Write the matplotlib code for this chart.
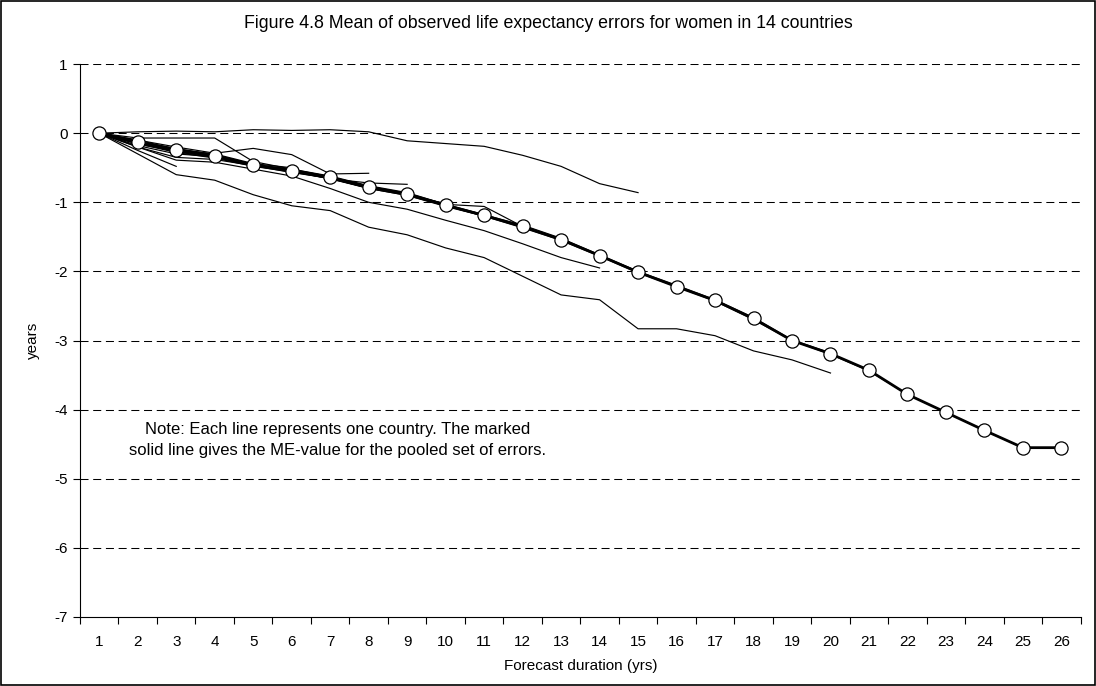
import numpy as np
import matplotlib.pyplot as plt
from matplotlib.patches import Rectangle

plt.rcParams['font.family'] = ['Liberation Sans', 'DejaVu Sans']
plt.rcParams['axes.unicode_minus'] = False

# forecast duration (years) 1..26
durations = list(range(1, 27))

# ME-value for the pooled set of errors
mean_errors = [0, -0.13, -0.25, -0.33, -0.46, -0.54, -0.64, -0.78, -0.88, -1.04,
               -1.19, -1.35, -1.54, -1.77, -2.01, -2.22, -2.42, -2.68, -3.0, -3.19,
               -3.43, -3.78, -4.04, -4.30, -4.55, -4.55]

# mean errors per country (series have different lengths)
country_a = [0, 0.02, 0.03, 0.02, 0.05, 0.04, 0.05, 0.02, -0.11, -0.15, -0.19, -0.32, -0.48, -0.73, -0.86]
country_b = [0, -0.3, -0.6, -0.68, -0.89, -1.05, -1.12, -1.36, -1.47, -1.66, -1.8, -2.07, -2.34, -2.41,
             -2.83, -2.83, -2.93, -3.15, -3.28, -3.47]
country_c = [0, -0.2, -0.39, -0.42, -0.52, -0.62, -0.8, -1.0, -1.1, -1.26, -1.41, -1.6, -1.8, -1.95]
country_d = [0, -0.1, -0.2, -0.29, -0.22, -0.31, -0.59, -0.58]
country_e = [0, -0.12, -0.22, -0.31, -0.45, -0.55, -0.66, -0.72, -0.74]
country_f = [0, -0.25, -0.48]
country_g = [0, -0.07, -0.07, -0.07, -0.41, -0.52, -0.62, -0.76, -0.86, -1.03, -1.06, -1.35]
country_h = [0, -0.15, -0.28, -0.36, -0.48, -0.56, -0.66, -0.8, -0.9, -1.05, -1.2, -1.37, -1.55,
             -1.78, -2.02, -2.22, -2.43, -2.7, -3.0, -3.2, -3.44, -3.78, -4.04, -4.3, -4.55, -4.55]
country_i = [0, -0.18, -0.3, -0.34, -0.45, -0.52, -0.63, -0.77, -0.88, -1.03, -1.18, -1.33, -1.52,
             -1.76, -2.0, -2.2, -2.41, -2.67, -2.99, -3.18]
country_j = [0, -0.2, -0.35, -0.38, -0.47, -0.57, -0.65, -0.8, -0.9, -1.06, -1.2]
country_k = [0, -0.12, -0.24, -0.3, -0.44, -0.5]
country_l = [0, -0.14, -0.27, -0.35, -0.47, -0.55, -0.66, -0.79, -0.89, -1.02]
country_m = [0, -0.16, -0.26, -0.33]
country_n = [0, -0.1, -0.23, -0.31, -0.46, -0.53, -0.64, -0.78, -0.87, -1.04, -1.18, -1.36, -1.53, -1.77, -2.0]

countries = [country_a, country_b, country_c, country_d, country_e, country_f, country_g,
             country_h, country_i, country_j, country_k, country_l, country_m, country_n]

y_ticks = list(range(-7, 2))

fig = plt.figure(figsize=(10.96, 6.86), dpi=100)
ax = fig.add_axes([0.073, 0.1006, 0.913, 0.806])

# dashed gridlines at each whole year
for y in y_ticks[1:]:
    ax.axhline(y, color='black', linestyle=(0, (7.7, 4.5)), linewidth=0.75, zorder=1)

for series in countries:
    ax.plot(durations[:len(series)], series, color='black', linewidth=0.85, zorder=2)

ax.plot(durations, mean_errors, color='black', linewidth=2.0, marker='o', markersize=9.5,
        markerfacecolor='white', markeredgecolor='black', markeredgewidth=0.9, zorder=3)

ax.set_xlim(0.5, 26.5)
ax.set_ylim(-7, 1)
ax.set_yticks(y_ticks)
ax.set_xticks(durations)
ax.set_xticks(np.arange(0.5, 27, 1), minor=True)
ax.tick_params(axis='x', which='major', length=0, pad=13, labelsize=11)
ax.tick_params(axis='x', which='minor', length=5, direction='out', width=0.8)
ax.tick_params(axis='y', length=5, direction='out', width=0.8, labelsize=11, pad=4)

ax.spines['top'].set_visible(False)
ax.spines['right'].set_visible(False)
ax.spines['left'].set_linewidth(0.8)
ax.spines['bottom'].set_linewidth(0.8)

ax.set_xlabel('Forecast duration (yrs)', fontsize=11, labelpad=7)
ax.set_ylabel('years', fontsize=11, labelpad=10)

fig.text(0.5, 0.966, 'Figure 4.8 Mean of observed life expectancy errors for women in 14 countries',
         ha='center', va='center', fontsize=12.8)

ax.text(0.257, 0.32, 'Note: Each line represents one country. The marked\n'
        'solid line gives the ME-value for the pooled set of errors.',
        transform=ax.transAxes, ha='center', va='center', fontsize=12, linespacing=1.45)

fig.patches.append(Rectangle((0.001, 0.001), 0.998, 0.997, transform=fig.transFigure,
                             fill=False, edgecolor='black', linewidth=1.2))

fig.savefig('out.png', dpi=100)
